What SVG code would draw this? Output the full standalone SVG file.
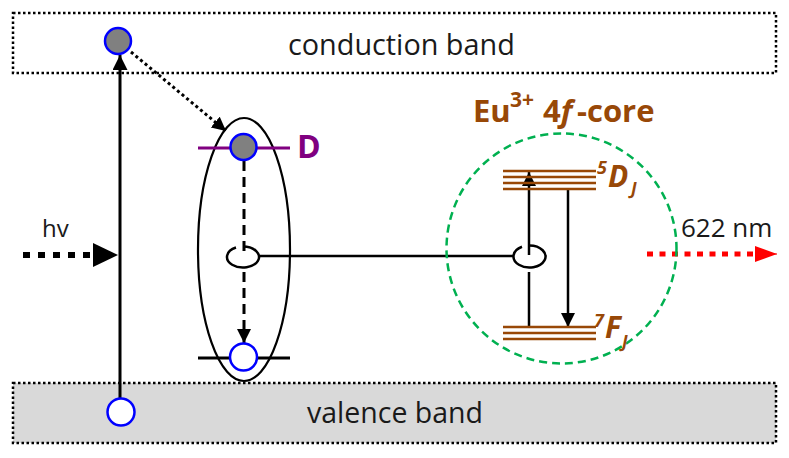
<svg xmlns="http://www.w3.org/2000/svg" width="789" height="458" viewBox="0 0 789 458">
<style>
.band{stroke:#000;stroke-width:2.5;stroke-dasharray:2.5 2.5}
.lbl{font-family:"Open Sans","Liberation Sans",sans-serif;fill:#1a1a1a}
.ln{stroke:#000;fill:none}
.brown{fill:#984807;font-family:"Open Sans","Liberation Sans",sans-serif;font-weight:bold}
.lvl{stroke:#984807;stroke-width:2.5}
.e{stroke:#0000ff;stroke-width:2.5}
</style>
<defs>
<marker id="ah" markerUnits="userSpaceOnUse" markerWidth="16" markerHeight="16" refX="15" refY="7.5" orient="auto">
<path d="M0,0 L15,7.5 L0,15 z" fill="#000"/>
</marker>
<marker id="ahs" markerUnits="userSpaceOnUse" markerWidth="16" markerHeight="16" refX="14" refY="7" orient="auto">
<path d="M0,0 L14,7 L0,14 z" fill="#000"/>
</marker>
<marker id="ahr" markerUnits="userSpaceOnUse" markerWidth="24" markerHeight="18" refX="22" refY="8" orient="auto">
<path d="M0,0 L22,8 L0,16 z" fill="#ff0000"/>
</marker>
</defs>

<g id="conduction-band">
<rect class="band" x="13" y="13" width="763" height="60" fill="#fff"/>
<text class="lbl" x="288" y="55" font-size="28.8">conduction band</text>
</g>
<g id="valence-band">
<rect class="band" x="13" y="383" width="763" height="60" fill="#d9d9d9"/>
<text class="lbl" x="307" y="423" font-size="28.5">valence band</text>
</g>

<g id="connectors">
<line class="ln" x1="120" y1="398" x2="120" y2="55" stroke-width="3" marker-end="url(#ah)"/>
<line x1="23" y1="255" x2="95" y2="255" stroke="#000" stroke-width="6" stroke-dasharray="7 8"/>
<polygon points="93,243 118,255 93,267" fill="#000"/>
<line class="ln" x1="131" y1="52" x2="226" y2="131" stroke-width="3" stroke-dasharray="3 3" marker-end="url(#ahs)"/>
<line class="ln" x1="244" y1="161" x2="244" y2="255" stroke-width="3" stroke-dasharray="10 6"/>
<line class="ln" x1="244" y1="272" x2="244" y2="343" stroke-width="3" stroke-dasharray="10 6" marker-end="url(#ahs)"/>
<line class="ln" x1="259" y1="256" x2="513" y2="256" stroke-width="2.5"/>
<line class="ln" x1="529" y1="255" x2="529" y2="172" stroke-width="2.5" marker-end="url(#ahs)"/>
<line class="ln" x1="529" y1="272" x2="529" y2="327" stroke-width="2.5"/>
<line class="ln" x1="568" y1="190" x2="568" y2="327" stroke-width="2.5" marker-end="url(#ahs)"/>
<line x1="647" y1="254" x2="758" y2="254" stroke="#ff0000" stroke-width="5" stroke-dasharray="6 6.5"/>
<line x1="755" y1="254" x2="777" y2="254" stroke="#ff0000" stroke-width="1" marker-end="url(#ahr)"/>
</g>

<g id="hv-label"><text class="lbl" x="42" y="237" font-size="24">hv</text></g>

<g id="electron-cb"><circle class="e" cx="118" cy="41" r="13" fill="#808080"/></g>
<g id="hole-vb"><circle class="e" cx="121" cy="412" r="13.5" fill="#fff"/></g>

<g id="donor-acceptor-pair">
<ellipse cx="244" cy="249.5" rx="46" ry="131.5" fill="none" stroke="#000" stroke-width="2.2"/>
<line x1="198" y1="148" x2="290" y2="148" stroke="#800080" stroke-width="3"/>
<line x1="198" y1="358" x2="290" y2="358" stroke="#000" stroke-width="3"/>
<path d="M243,246.5 A16,10.5 0 1 1 236,247.56" fill="none" stroke="#000" stroke-width="2.5"/>
</g>
<g id="donor-electron"><circle class="e" cx="243.5" cy="147" r="13" fill="#808080"/></g>
<g id="acceptor-hole"><circle class="e" cx="243.5" cy="357" r="13.5" fill="#fff"/></g>
<g id="donor-label"><text x="297" y="158" font-family="'Open Sans','Liberation Sans',sans-serif" font-weight="bold" font-size="32" fill="#800080">D</text></g>

<g id="eu-core">
<circle cx="561.5" cy="248.5" r="115" fill="none" stroke="#00b050" stroke-width="2.5" stroke-dasharray="8 5"/>
<text class="brown" y="122" font-size="31"><tspan x="473">Eu</tspan><tspan x="510" y="107" font-size="21">3+</tspan><tspan x="543" y="122">4</tspan><tspan font-style="italic">f</tspan><tspan x="577">-core</tspan></text>
<line class="lvl" x1="503" y1="171" x2="596" y2="171"/>
<line class="lvl" x1="503" y1="177" x2="596" y2="177"/>
<line class="lvl" x1="503" y1="183" x2="596" y2="183"/>
<line class="lvl" x1="503" y1="189" x2="596" y2="189"/>
<line class="lvl" x1="503" y1="327" x2="596" y2="327"/>
<line class="lvl" x1="503" y1="333" x2="596" y2="333"/>
<line class="lvl" x1="503" y1="339" x2="596" y2="339"/>
<path d="M529.5,245.5 A16,11 0 1 1 522,246.78" fill="none" stroke="#000" stroke-width="2.5"/>
<text class="brown" font-style="italic"><tspan x="597" y="174" font-size="18">5</tspan><tspan x="608" y="187" font-size="30">D</tspan><tspan x="631" y="195" font-size="17">J</tspan></text>
<text class="brown" font-style="italic"><tspan x="594" y="327" font-size="18">7</tspan><tspan x="605" y="338" font-size="30">F</tspan><tspan x="622" y="348" font-size="17">J</tspan></text>
</g>

<g id="emission-label"><text class="lbl" x="681" y="237" font-size="26">622 nm</text></g>
</svg>
